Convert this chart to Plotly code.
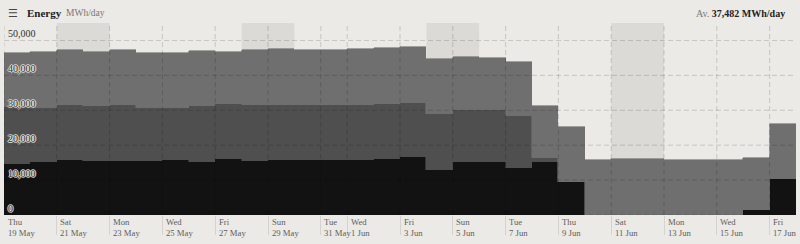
import plotly.graph_objects as go

# ---- data ----
dates = ["2022-05-19", "2022-05-20", "2022-05-21", "2022-05-22", "2022-05-23", "2022-05-24",
         "2022-05-25", "2022-05-26", "2022-05-27", "2022-05-28", "2022-05-29", "2022-05-30",
         "2022-05-31", "2022-06-01", "2022-06-02", "2022-06-03", "2022-06-04", "2022-06-05",
         "2022-06-06", "2022-06-07", "2022-06-08", "2022-06-09", "2022-06-10", "2022-06-11",
         "2022-06-12", "2022-06-13", "2022-06-14", "2022-06-15", "2022-06-16", "2022-06-17"]

layer_a = [14600, 15100, 15800, 15400, 15600, 15400, 15700, 15300, 16000, 15500,
           15800, 15700, 15800, 15800, 16100, 16500, 13000, 15200, 15200, 13600,
           15200, 9350, 0, 0, 0, 0, 0, 0, 1400, 10400]
layer_b = [16200, 15500, 15700, 15700, 15800, 15300, 15000, 15800, 15700, 15900,
           15800, 15700, 15800, 15800, 15700, 15600, 15800, 15000, 14800, 14900,
           1100, 0, 0, 0, 0, 0, 0, 0, 0, 0]
layer_c = [15500, 16000, 15900, 15700, 15800, 15800, 15800, 15800, 15000, 15800,
           15900, 15800, 15800, 15900, 15900, 15900, 15900, 15200, 15000, 15400,
           15000, 15850, 15700, 15900, 15900, 15800, 15800, 15800, 14800, 15600]

tick_dates = ["2022-05-19", "2022-05-21", "2022-05-23", "2022-05-25", "2022-05-27",
              "2022-05-29", "2022-05-31", "2022-06-01", "2022-06-03", "2022-06-05",
              "2022-06-07", "2022-06-09", "2022-06-11", "2022-06-13", "2022-06-15",
              "2022-06-17"]
tick_weekday = ["Thu", "Sat", "Mon", "Wed", "Fri", "Sun", "Tue", "Wed",
                "Fri", "Sun", "Tue", "Thu", "Sat", "Mon", "Wed", "Fri"]
tick_day = ["19 May", "21 May", "23 May", "25 May", "27 May", "29 May", "31 May", "1 Jun",
            "3 Jun", "5 Jun", "7 Jun", "9 Jun", "11 Jun", "13 Jun", "15 Jun", "17 Jun"]
y_ticks = [0, 10000, 20000, 30000, 40000, 50000]
weekends = [("2022-05-21", "2022-05-23"), ("2022-05-28", "2022-05-30"),
            ("2022-06-04", "2022-06-06"), ("2022-06-11", "2022-06-13")]
average_text = "37,482 MWh/day"

BG = "#ebeae6"
SERIF = "Liberation Serif"
DAY_MS = 86400000

fig = go.Figure()
for vals, col in [(layer_a, "#121212"), (layer_b, "#4f4f4f"), (layer_c, "#6f6f6f")]:
    fig.add_trace(go.Bar(x=dates, y=vals, width=DAY_MS, offset=0,
                         marker=dict(color=col, line=dict(color=col, width=0.6)),
                         hoverinfo="skip"))

shapes = []
for s, e in weekends:
    shapes.append(dict(type="rect", xref="x", yref="paper", x0=s, x1=e, y0=0, y1=1,
                       fillcolor="rgba(0,0,0,0.065)", line=dict(width=0), layer="below"))
grid = dict(color="rgba(0,0,0,0.16)", width=1, dash="5px,3px")
for v in y_ticks:
    shapes.append(dict(type="line", xref="paper", yref="y", x0=0, x1=1, y0=v, y1=v,
                       line=grid, layer="above"))
for d in tick_dates:
    shapes.append(dict(type="line", xref="x", yref="paper", x0=d, x1=d, y0=0, y1=1,
                       line=grid, layer="above"))

annotations = [
    dict(xref="paper", yref="paper", x=0.003, y=1.052, xanchor="left", yanchor="middle",
         text="☰", showarrow=False, font=dict(family="DejaVu Sans", size=11, color="#444")),
    dict(xref="paper", yref="paper", x=0.027, y=1.052, xanchor="left", yanchor="middle",
         text="<b>Energy</b>", showarrow=False,
         font=dict(family=SERIF, size=11, color="#222")),
    dict(xref="paper", yref="paper", x=0.0755, y=1.05, xanchor="left", yanchor="middle",
         text="MWh/day", showarrow=False, font=dict(family=SERIF, size=9.5, color="#777")),
    dict(xref="paper", yref="paper", x=0.9886, y=1.052, xanchor="right", yanchor="middle",
         text="<span style='color:#777'>Av.</span> <b>" + average_text + "</b>",
         showarrow=False, font=dict(family=SERIF, size=10, color="#222")),
]
# x tick labels (two lines) placed at the tick dates
for d, wd, dd in zip(tick_dates, tick_weekday, tick_day):
    for txt, ys in [(wd, -7), (dd, -18)]:
        annotations.append(dict(xref="x", yref="paper", x=d, y=0, xanchor="left",
                                yanchor="middle", xshift=1.5, yshift=ys, text=txt,
                                showarrow=False, font=dict(family=SERIF, size=8.7, color="#5e5e5e")))

fig.update_layout(
    width=800, height=244,
    margin=dict(l=4, r=4, t=23, b=29),
    paper_bgcolor=BG, plot_bgcolor=BG,
    barmode="stack", bargap=0, showlegend=False, hovermode=False,
    shapes=shapes, annotations=annotations,
    xaxis=dict(type="date", range=["2022-05-19", "2022-06-18"],
               tickvals=tick_dates, showticklabels=False,
               ticks="outside", ticklen=19, tickwidth=1, tickcolor="#d4d3d0",
               showgrid=False, zeroline=False, showline=False),
    yaxis=dict(range=[0, 55000], tickvals=y_ticks, tickformat=",",
               ticklabelposition="inside top", layer="above traces",
               ticklabelstandoff=1,
               showgrid=False, zeroline=False, showline=False, ticks="",
               tickfont=dict(family=SERIF, size=10, color="#333",
                             shadow="1px 0 0 #e8e8e4, -1px 0 0 #e8e8e4, 0 1px 0 #e8e8e4, 0 -1px 0 #e8e8e4")),
)

fig.write_html("out.html")
